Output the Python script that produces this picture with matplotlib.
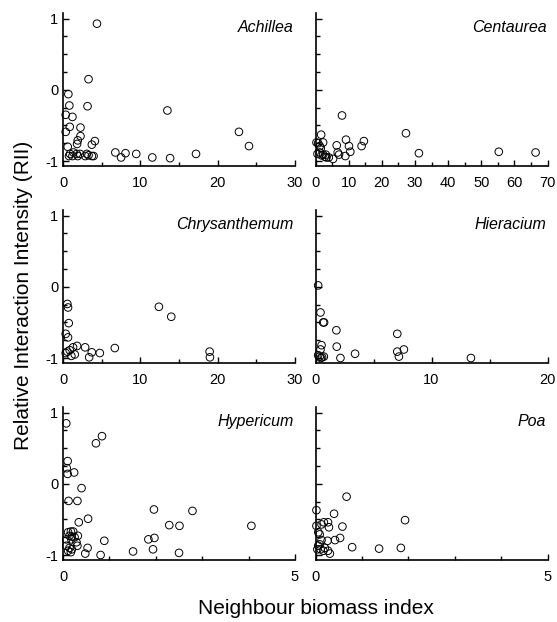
import matplotlib
matplotlib.use("Agg")
import matplotlib.pyplot as plt
from matplotlib.ticker import MultipleLocator

plt.rcParams['font.family'] = ['Liberation Sans', 'DejaVu Sans']
plt.rcParams['axes.unicode_minus'] = False

# biomass index (x) and RII (y), one pair of lists per species
achillea_x = [4.39, 3.30, 0.69, 0.82, 3.17, 13.5, 0.35, 1.22, 0.87, 2.26, 0.35, 2.26,
              22.75, 4.12, 1.91, 1.82, 3.73, 0.61, 24.05, 0.91, 1.35, 1.78, 2.21, 0.78,
              1.22, 1.91, 3.08, 3.30, 3.73, 3.95, 2.87, 6.77, 7.51, 8.08, 9.47, 11.55,
              13.85, 17.2]
achillea_y = [0.93, 0.15, -0.06, -0.22, -0.23, -0.29, -0.35, -0.38, -0.52, -0.53, -0.59, -0.65,
              -0.59, -0.72, -0.71, -0.76, -0.77, -0.80, -0.79, -0.90, -0.88, -0.90, -0.90, -0.93,
              -0.93, -0.93, -0.90, -0.92, -0.93, -0.93, -0.93, -0.88, -0.95, -0.89, -0.90, -0.95,
              -0.96, -0.90]

centaurea_x = [8.0, 27.3, 1.7, 9.2, 14.6, 0.8, 2.3, 6.4, 10.1, 13.9, 1.6, 1.3,
               31.2, 55.3, 66.4, 10.5, 6.7, 7.1, 9.0, 0.6, 1.3, 2.3, 2.8, 3.3,
               4.0, 5.3, 1.8, 3.1, 0.3]
centaurea_y = [-0.36, -0.61, -0.63, -0.70, -0.72, -0.75, -0.74, -0.78, -0.79, -0.79, -0.82, -0.79,
               -0.89, -0.87, -0.88, -0.87, -0.88, -0.91, -0.93, -0.90, -0.88, -0.91, -0.94, -0.95,
               -0.95, -0.97, -0.92, -0.91, -0.74]

chrysanthemum_x = [0.56, 0.65, 12.4, 14.0, 0.74, 0.35, 0.65, 1.82, 2.86, 6.7, 1.30, 0.87,
                   3.72, 4.76, 0.35, 1.52, 1.08, 3.38, 18.96, 19.0, 0.56]
chrysanthemum_y = [-0.24, -0.29, -0.28, -0.42, -0.51, -0.66, -0.71, -0.83, -0.85, -0.86, -0.85, -0.89,
                   -0.92, -0.93, -0.93, -0.95, -0.97, -0.99, -0.91, -0.99, -0.91]

hieracium_x = [0.23, 0.43, 0.66, 0.74, 1.8, 7.05, 0.52, 1.83, 0.43, 7.62, 7.05, 7.19,
               3.41, 2.15, 13.4, 0.23, 0.37, 0.57, 0.72, 0.46]
hieracium_y = [0.02, -0.36, -0.50, -0.50, -0.61, -0.66, -0.82, -0.84, -0.88, -0.88, -0.91, -0.98,
               -0.94, -1.00, -1.00, -0.96, -0.98, -0.99, -0.98, -1.00]

hypericum_x = [0.07, 0.84, 0.71, 0.10, 0.08, 0.24, 0.10, 0.40, 0.12, 0.31, 1.96, 2.79,
               0.54, 0.34, 2.29, 2.51, 4.06, 0.11, 0.17, 0.22, 0.14, 0.19, 0.25, 0.32,
               0.07, 0.18, 0.29, 0.07, 0.14, 0.19, 0.11, 0.17, 0.31, 0.89, 1.84, 1.97,
               0.53, 1.94, 1.51, 0.48, 0.81, 2.50]
hypericum_y = [0.85, 0.67, 0.57, 0.32, 0.22, 0.16, 0.14, -0.06, -0.24, -0.24, -0.36, -0.38,
               -0.49, -0.54, -0.58, -0.59, -0.59, -0.68, -0.67, -0.67, -0.73, -0.74, -0.75, -0.73,
               -0.78, -0.78, -0.82, -0.87, -0.90, -0.92, -0.94, -0.96, -0.87, -0.80, -0.78, -0.76,
               -0.90, -0.92, -0.95, -0.98, -1.00, -0.97]

poa_x = [0.67, 0.02, 0.40, 1.93, 0.18, 0.27, 0.02, 0.13, 0.29, 0.58, 0.06, 0.09,
         0.53, 0.42, 0.26, 0.13, 0.79, 1.37, 1.84, 0.06, 0.11, 0.17, 0.27, 0.31,
         0.20, 0.04, 0.09]
poa_y = [-0.18, -0.37, -0.42, -0.51, -0.54, -0.54, -0.59, -0.57, -0.61, -0.60, -0.68, -0.71,
         -0.76, -0.79, -0.80, -0.79, -0.89, -0.91, -0.90, -0.87, -0.92, -0.94, -0.94, -0.98,
         -0.90, -0.92, -0.85]

panels = [
    ("Achillea", achillea_x, achillea_y, 30, 10, 5),
    ("Centaurea", centaurea_x, centaurea_y, 70, 10, 5),
    ("Chrysanthemum", chrysanthemum_x, chrysanthemum_y, 30, 10, 5),
    ("Hieracium", hieracium_x, hieracium_y, 20, 10, 5),
    ("Hypericum", hypericum_x, hypericum_y, 5, 5, 1),
    ("Poa", poa_x, poa_y, 5, 5, 1),
]

W, H = 557, 622
fig = plt.figure(figsize=(W / 100, H / 100), dpi=100)

lefts = [63, 315.5]
tops = [13, 210, 407]
aw, ah = 232, 153

for i, (name, xs, ys, xmax, xmaj, xmin) in enumerate(panels):
    row, col = divmod(i, 2)
    ax = fig.add_axes([lefts[col] / W, 1 - (tops[row] + ah) / H, aw / W, ah / H])
    ax.scatter(xs, ys, s=30, facecolors='none', edgecolors='black', linewidths=0.7,
               clip_on=False, zorder=3)
    ax.set_xlim(0, xmax)
    ax.set_ylim(-1.07, 1.08)
    ax.spines['top'].set_visible(False)
    ax.spines['right'].set_visible(False)
    for s in ('left', 'bottom'):
        ax.spines[s].set_linewidth(1.2)
    ax.xaxis.set_major_locator(MultipleLocator(xmaj))
    ax.xaxis.set_minor_locator(MultipleLocator(xmin))
    ax.set_yticks([-1, 0, 1])
    ax.yaxis.set_minor_locator(MultipleLocator(0.25))
    ax.tick_params(which='both', direction='in', labelsize=10.5, width=1)
    ax.tick_params(which='major', length=4)
    ax.tick_params(which='minor', length=3)
    ax.tick_params(axis='x', pad=7)
    if col == 1:
        ax.tick_params(axis='y', labelleft=False)
    ax.text(0.995, 0.905, name, transform=ax.transAxes, ha='right', va='center',
            fontsize=11.5, style='italic')

fig.text(316 / W, 1 - 609 / H, "Neighbour biomass index", ha='center', va='center', fontsize=15)
fig.text(24 / W, 1 - 295 / H, "Relative Interaction Intensity (RII)", ha='center', va='center',
         rotation=90, fontsize=15)

fig.savefig("out.png", dpi=100)
